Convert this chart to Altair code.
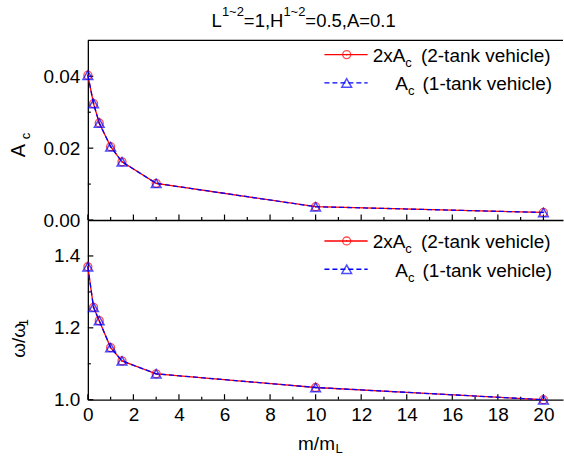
import altair as alt
import pandas as pd

# ---------------- data ----------------
X_VALUES = [0, 0.25, 0.5, 1, 1.5, 3, 10, 20]
AC_2TANK = [0.0403, 0.0324, 0.0270, 0.0204, 0.0162, 0.0102, 0.0037, 0.0021]
AC_1TANK = [0.0403, 0.0324, 0.0270, 0.0204, 0.0162, 0.0102, 0.0037, 0.0021]
W_2TANK = [1.370, 1.257, 1.220, 1.145, 1.108, 1.072, 1.034, 1.000]
W_1TANK = [1.370, 1.257, 1.220, 1.145, 1.108, 1.072, 1.034, 1.000]

X_MAJOR = [0, 2, 4, 6, 8, 10, 12, 14, 16, 18, 20]
X_MINOR = [1, 3, 5, 7, 9, 11, 13, 15, 17, 19]
TOP_Y_MAJOR = [0.0, 0.02, 0.04]
TOP_Y_MINOR = [0.01, 0.03]
BOT_Y_MAJOR = [1.0, 1.2, 1.4]
BOT_Y_MINOR = [1.1, 1.3]

X_DOMAIN = [0, 20.86]
TOP_DOMAIN = [0, 0.05]
BOT_DOMAIN = [1.0, 1.5]

LEGEND_MAIN = ["2xA", "A"]
LEGEND_SUB = ["c", "c"]
LEGEND_TAIL = ["(2-tank vehicle)", "(1-tank vehicle)"]

TITLE_PARTS = ["L", "1~2", "=1,H", "1~2", "=0.5,A=0.1"]

# ---------------- style ----------------
FONT = "Liberation Sans"
W, H = 476, 180
RED = "#ff0000"
BLUE = "#0000ff"
FS = 19
SUB = 13


def txt(s, x, y, size=FS, angle=0):
    return alt.Chart(pd.DataFrame({"t": [s]})).mark_text(
        font=FONT, fontSize=size, align="left", baseline="alphabetic",
        color="black", angle=angle
    ).encode(text="t:N", x=alt.value(x), y=alt.value(y))


def panel(red_vals, blue_vals, ydomain, ymajor, yminor, yfmt, show_x, leg_y, extra):
    xscale = alt.Scale(domain=X_DOMAIN, nice=False, zero=False)
    yscale = alt.Scale(domain=ydomain, nice=False, zero=False)
    xaxis = alt.Axis(values=X_MAJOR, format="d", labels=show_x, ticks=False,
                     domain=True, domainColor="black", domainWidth=1.3, grid=False,
                     title=None, labelFont=FONT, labelFontSize=FS, labelColor="black",
                     labelPadding=6, labelFlush=False, labelOverlap=False)
    yaxis = alt.Axis(values=ymajor, format=yfmt, ticks=False, domain=True,
                     domainColor="black", domainWidth=1.3, grid=False, title=None,
                     labelFont=FONT, labelFontSize=FS, labelColor="black",
                     labelPadding=8, labelFlush=False, labelOverlap=False)

    def X(f):
        return alt.X(f, type="quantitative", scale=xscale, axis=xaxis)

    def Y(f):
        return alt.Y(f, type="quantitative", scale=yscale, axis=yaxis)

    df = pd.DataFrame({"x": X_VALUES, "red": red_vals, "blue": blue_vals})
    base = alt.Chart(df)
    red_line = base.mark_line(color=RED, strokeWidth=1.3).encode(x=X("x"), y=Y("red"))
    red_pts = base.mark_point(shape="circle", size=64, color=RED, strokeWidth=1.3,
                              filled=False).encode(x=X("x"), y=Y("red"))
    red_dot = base.mark_point(shape="circle", size=3, color=RED, filled=True,
                              opacity=1).encode(x=X("x"), y=Y("red"))
    blue_line = base.mark_line(color=BLUE, strokeWidth=1.3, strokeDash=[5, 3]).encode(
        x=X("x"), y=Y("blue"))
    blue_pts = base.mark_point(shape="triangle-up", size=95, color=BLUE, strokeWidth=1.5,
                               filled=False).encode(x=X("x"), y=Y("blue"))

    xmaj = alt.Chart(pd.DataFrame({"v": X_MAJOR})).mark_rule(color="black", strokeWidth=1.2).encode(
        x=X("v"), y=alt.value(H), y2=alt.value(H - 5.5))
    xmin = alt.Chart(pd.DataFrame({"v": X_MINOR})).mark_rule(color="black", strokeWidth=1.2).encode(
        x=X("v"), y=alt.value(H), y2=alt.value(H - 3))
    ymaj = alt.Chart(pd.DataFrame({"v": ymajor})).mark_rule(color="black", strokeWidth=1.2).encode(
        y=Y("v"), x=alt.value(0), x2=alt.value(5.5))
    ymin = alt.Chart(pd.DataFrame({"v": yminor})).mark_rule(color="black", strokeWidth=1.2).encode(
        y=Y("v"), x=alt.value(0), x2=alt.value(3))

    layers = [xmaj, xmin, ymaj, ymin, red_line, red_pts, red_dot, blue_line, blue_pts]

    # legend
    one = pd.DataFrame({"a": [1]})
    r1, r2 = leg_y
    layers.append(alt.Chart(one).mark_rule(color=RED, strokeWidth=1.3).encode(
        x=alt.value(237), x2=alt.value(280.3), y=alt.value(r1)))
    layers.append(alt.Chart(one).mark_point(shape="circle", size=64, color=RED,
                                            strokeWidth=1.3).encode(x=alt.value(259.3), y=alt.value(r1)))
    layers.append(alt.Chart(one).mark_point(shape="circle", size=3, color=RED, filled=True).encode(
        x=alt.value(259.3), y=alt.value(r1)))
    layers.append(alt.Chart(one).mark_rule(color=BLUE, strokeWidth=1.3, strokeDash=[5, 3]).encode(
        x=alt.value(237), x2=alt.value(280.3), y=alt.value(r2)))
    layers.append(alt.Chart(one).mark_point(shape="triangle-up", size=95, color=BLUE,
                                            strokeWidth=1.5).encode(x=alt.value(259.3), y=alt.value(r2)))
    layers += [
        txt(LEGEND_MAIN[0], 285.3, r1 + 7.4), txt(LEGEND_SUB[0], 318.0, r1 + 12.4, SUB),
        txt(LEGEND_TAIL[0], 333.7, r1 + 7.4),
        txt(LEGEND_MAIN[1], 308.0, r2 + 7.4), txt(LEGEND_SUB[1], 320.7, r2 + 12.4, SUB),
        txt(LEGEND_TAIL[1], 335.3, r2 + 7.4),
    ]
    layers += extra
    return alt.layer(*layers).properties(width=W, height=H)


one = pd.DataFrame({"a": [1]})
spacer = alt.Chart(one).mark_rule(opacity=0).encode(
    x=alt.value(-88), x2=alt.value(-88), y=alt.value(-40), y2=alt.value(-40))
top_rule = alt.Chart(one).mark_rule(color="black", strokeWidth=1.3).encode(
    x=alt.value(0), x2=alt.value(W), y=alt.value(0))

top_extra = [
    spacer, top_rule,
    txt(TITLE_PARTS[0], 124.0, -13.3, 18.5),
    txt(TITLE_PARTS[1], 134.3, -24.5, SUB),
    txt(TITLE_PARTS[2], 156.3, -13.3, 18.5),
    txt(TITLE_PARTS[3], 195.9, -24.5, SUB),
    txt(TITLE_PARTS[4], 217.9, -13.3, 18.5),
    txt("A", -63, 117, 20, 270),
    txt("c", -58, 99, SUB, 270),
]
bot_extra = [
    txt("ω/ω", -63, 138, FS, 270),
    txt("1", -59.5, 106.5, SUB, 270),
    txt("m/m", 210.6, 230, FS),
    txt("L", 248.0, 233.5, SUB),
]

top = panel(AC_2TANK, AC_1TANK, TOP_DOMAIN, TOP_Y_MAJOR, TOP_Y_MINOR, ".2f", False,
            (14.3, 42.7), top_extra)
bottom = panel(W_2TANK, W_1TANK, BOT_DOMAIN, BOT_Y_MAJOR, BOT_Y_MINOR, ".1f", True,
               (21.0, 49.3), bot_extra)

chart = alt.vconcat(top, bottom, spacing=0, bounds="flush").properties(
    padding={"left": 0, "top": 0, "right": 0, "bottom": 0}
).configure_view(stroke=None)

chart.save("out.html", embed_options={"renderer": "svg", "actions": False})
